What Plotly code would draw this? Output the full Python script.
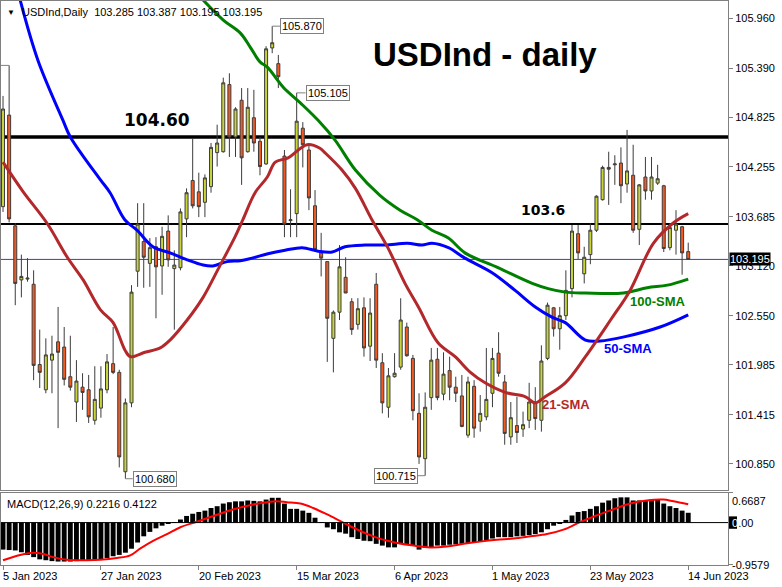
import plotly.graph_objects as go

# ---------------- data ----------------
opens = [103.80, 104.85, 103.58, 102.96, 102.97, 102.91, 101.99, 101.70, 102.04, 102.25,
         102.19, 101.85, 101.56, 101.73, 101.70, 101.35, 101.49, 101.70, 102.00, 101.90,
         100.76, 101.55, 103.06, 103.40, 103.15, 103.34, 103.12, 103.52, 103.09, 103.10,
         103.66, 104.10, 103.97, 103.85, 104.03, 104.42, 104.43, 105.20, 104.60, 105.02,
         104.43, 104.82, 104.55, 104.29, 105.62, 105.44, 104.38, 103.64, 103.72, 104.70,
         104.45, 103.81, 103.27, 103.17, 102.29, 102.59, 102.99, 102.71, 102.45, 102.64,
         102.20, 102.91, 102.01, 101.50, 101.85, 101.96, 102.42, 102.06, 101.43, 100.91,
         101.61, 102.05, 101.65, 101.92, 101.73, 101.63, 101.18, 101.74, 101.34, 101.39,
         101.66, 102.12, 101.79, 101.16, 101.29, 101.25, 101.35, 101.55, 101.35, 102.06,
         102.64, 102.40, 102.55, 102.86, 103.49, 103.03, 103.25, 103.53, 103.88, 104.25,
         104.28, 104.30, 104.06, 104.16, 103.54, 104.14, 103.98, 104.07, 104.04, 103.33,
         103.53, 103.57, 103.285]
highs = [105.07, 105.42, 103.61, 103.25, 103.21, 103.07, 102.39, 102.29, 102.32, 102.65,
         102.42, 102.32, 102.04, 101.89, 101.87, 101.97, 101.97, 102.11, 102.42, 101.93,
         101.60, 102.90, 103.84, 103.84, 103.44, 103.45, 103.57, 103.70, 103.30, 103.78,
         104.01, 104.58, 104.19, 104.17, 104.53, 104.74, 105.28, 105.33, 104.94, 105.16,
         105.16, 105.14, 104.60, 105.64, 105.87, 105.54, 104.45, 104.00, 105.105, 104.77,
         104.51, 103.99, 103.50, 103.17, 102.61, 103.36, 103.22, 102.75, 102.75, 102.76,
         102.75, 103.04, 102.12, 101.95, 102.12, 102.75, 102.47, 102.10, 101.66, 101.67,
         102.18, 102.18, 102.13, 102.08, 101.85, 101.87, 101.85, 101.81, 101.64, 102.18,
         102.18, 102.36, 101.87, 101.56, 101.62, 101.45, 101.78, 101.73, 102.21, 102.70,
         102.65, 102.65, 103.07, 103.59, 103.59, 103.34, 103.61, 103.93, 104.27, 104.43,
         104.39, 104.48, 104.68, 104.51, 104.06, 104.37, 104.37, 104.28, 104.05, 103.61,
         103.76, 103.58, 103.387]
lows = [103.74, 103.62, 102.67, 102.76, 102.94, 101.81, 101.72, 101.66, 101.66, 101.26,
        101.75, 101.69, 101.33, 101.47, 101.32, 101.30, 101.38, 101.66, 101.88, 100.81,
        100.68, 101.50, 102.88, 102.87, 102.88, 102.52, 102.79, 103.11, 102.39, 103.07,
        103.45, 103.78, 103.68, 103.68, 103.96, 104.26, 104.42, 104.37, 104.37, 104.05,
        104.42, 104.43, 104.16, 104.28, 105.56, 105.16, 103.45, 103.45, 103.45, 104.25,
        103.76, 103.30, 103.00, 102.02, 101.90, 102.50, 102.81, 102.33, 102.39, 102.08,
        102.03, 101.95, 101.43, 101.38, 101.84, 101.93, 102.08, 101.35, 100.85, 100.715,
        101.47, 101.58, 101.58, 101.58, 101.56, 101.27, 101.15, 101.15, 101.22, 101.35,
        101.50, 101.85, 101.07, 101.07, 101.09, 101.16, 101.26, 101.24, 101.22, 102.04,
        102.31, 102.16, 102.50, 102.76, 103.20, 102.92, 103.14, 103.51, 103.87, 103.82,
        104.05, 103.84, 103.96, 103.50, 103.36, 103.88, 103.88, 104.05, 103.28, 103.30,
        103.25, 103.02, 103.195]
closes = [104.92, 103.66, 102.92, 103.00, 102.98, 101.98, 101.90, 102.10, 102.11, 102.13,
          101.82, 101.73, 101.80, 101.67, 101.39, 101.59, 101.71, 102.02, 101.90, 100.93,
          101.55, 102.82, 103.60, 103.22, 103.33, 103.11, 103.46, 103.19, 103.13, 103.74,
          103.96, 103.81, 103.80, 104.13, 104.48, 104.53, 105.22, 104.60, 104.92, 104.36,
          104.94, 104.53, 104.26, 105.61, 105.68, 105.29, 103.60, 103.65, 104.78, 104.51,
          103.90, 103.31, 103.21, 102.52, 102.59, 103.11, 102.81, 102.39, 102.63, 102.18,
          102.58, 102.04, 101.55, 101.86, 101.89, 102.50, 102.09, 101.46, 100.93, 101.50,
          102.04, 101.61, 101.88, 101.73, 101.66, 101.28, 101.79, 101.26, 101.43, 101.59,
          102.06, 101.89, 101.20, 101.38, 101.21, 101.30, 101.56, 101.37, 102.03, 102.67,
          102.40, 102.55, 102.84, 103.52, 103.27, 103.22, 103.53, 103.92, 104.25, 104.23,
          104.29, 104.04, 104.21, 103.53, 104.05, 103.98, 104.14, 104.12, 103.32, 103.56,
          103.60, 103.27, 103.195]

tick_bars = [0, 16, 32, 48, 64, 80, 96, 112]
tick_labels = ["5 Jan 2023", "27 Jan 2023", "20 Feb 2023", "15 Mar 2023",
               "6 Apr 2023", "1 May 2023", "23 May 2023", "14 Jun 2023"]

price_ticks = [105.960, 105.390, 104.825, 104.255, 103.685, 103.120,
               102.550, 101.985, 101.415, 100.850]

sma21_x = [0, 3.3, 7.2, 10.5, 13.1, 15.9, 18, 19.9, 20.8, 23.2, 25.7, 27.3, 30.1, 32.7,
           35.5, 37.9, 39.2, 41.2, 43.2, 44.5, 46.6, 49.7, 51.8, 52.6, 55.4, 57.6, 60.3,
           62.9, 65.7, 67.9, 71.1, 73.9, 76.4, 78.8, 82.1, 85.4, 87, 88.6, 91.9, 95.2,
           99.3, 102.5, 106.3, 109.5, 112]
sma21_y = [104.31, 103.97, 103.61, 103.22, 102.96, 102.62, 102.47, 102.16, 102.08, 102.13,
           102.18, 102.27, 102.50, 102.76, 103.13, 103.45, 103.65, 103.96, 104.14, 104.31,
           104.36, 104.51, 104.47, 104.42, 104.22, 104.01, 103.65, 103.33, 102.92, 102.65,
           102.24, 102.08, 101.90, 101.78, 101.67, 101.62, 101.55, 101.62, 101.78, 102.08,
           102.50, 102.84, 103.38, 103.61, 103.72]

sma50_x = [2.8, 5.7, 9.8, 11, 15.9, 17.5, 19.9, 21.9, 24.5, 27.3, 30.1, 32.7, 34.3, 36.6,
           38.8, 40.7, 43.3, 46.1, 48.9, 51.5, 53.8, 55.9, 59.2, 62.5, 66.1, 68.5, 70.1,
           72.8, 75.5, 80, 83.7, 87, 89.8, 91.9, 95.2, 97.6, 101.7, 107.4, 112]
sma50_y = [106.17, 105.48, 104.79, 104.60, 104.11, 103.96, 103.65, 103.53, 103.34, 103.27,
           103.19, 103.13, 103.12, 103.17, 103.18, 103.21, 103.26, 103.30, 103.33, 103.29,
           103.28, 103.34, 103.36, 103.36, 103.38, 103.36, 103.38, 103.33, 103.21, 103.04,
           102.84, 102.65, 102.53, 102.47, 102.27, 102.26, 102.31, 102.42, 102.56]

sma100_x = [32.7, 36, 38.8, 40.4, 42, 43.2, 45.8, 48.6, 51.5, 54.3, 57.6, 61.6, 64.9, 67.7,
            70.1, 72.8, 75.5, 80.9, 86.5, 89.1, 91.9, 95.2, 101.4, 105.3, 108.6, 112]
sma100_y = [106.17, 105.94, 105.79, 105.63, 105.46, 105.40, 105.17, 104.99, 104.79, 104.56,
            104.22, 103.93, 103.76, 103.65, 103.53, 103.44, 103.27, 103.10, 102.92, 102.86,
            102.82, 102.81, 102.81, 102.87, 102.90, 102.97]

macd_hist = [-0.61, -0.62, -0.63, -0.67, -0.73, -0.78, -0.83, -0.85, -0.87, -0.88,
             -0.88, -0.88, -0.87, -0.85, -0.85, -0.85, -0.83, -0.80, -0.76, -0.73,
             -0.68, -0.59, -0.45, -0.31, -0.21, -0.13, -0.07, -0.02, 0.01, 0.07,
             0.15, 0.20, 0.24, 0.27, 0.33, 0.37, 0.43, 0.46, 0.48, 0.48,
             0.50, 0.49, 0.48, 0.52, 0.56, 0.56, 0.43, 0.31, 0.31, 0.27,
             0.22, 0.11, 0.01, -0.11, -0.15, -0.22, -0.25, -0.33, -0.37, -0.41,
             -0.42, -0.48, -0.52, -0.56, -0.56, -0.48, -0.50, -0.52, -0.61, -0.57,
             -0.56, -0.52, -0.52, -0.50, -0.49, -0.48, -0.46, -0.45, -0.43, -0.41,
             -0.36, -0.33, -0.33, -0.33, -0.31, -0.30, -0.28, -0.26, -0.22, -0.15,
             -0.07, -0.02, 0.06, 0.16, 0.24, 0.26, 0.31, 0.37, 0.45, 0.50,
             0.55, 0.57, 0.57, 0.50, 0.50, 0.50, 0.52, 0.52, 0.43, 0.37,
             0.33, 0.27, 0.2216]

signal_x = [0, 2.8, 5, 6.6, 8.2, 10.4, 13.7, 15.9, 18.6, 20.8, 22.4, 24.6, 26.8, 28.9,
            31.7, 34.4, 37.7, 40.9, 43.1, 44.7, 46.4, 48.6, 50.7, 52.9, 55.6, 57.8, 60.5,
            62.5, 64.4, 67.1, 69.8, 72.5, 75.3, 78, 80.7, 83.4, 86.2, 88.9, 91.6, 94.3,
            97, 99.8, 102.5, 105.2, 107.9, 109.6, 112]
signal_y = [-0.85, -0.73, -0.68, -0.71, -0.78, -0.84, -0.85, -0.84, -0.80, -0.74, -0.59,
            -0.41, -0.26, -0.11, 0.02, 0.15, 0.30, 0.41, 0.46, 0.48, 0.46, 0.43, 0.33,
            0.19, 0.0, -0.15, -0.31, -0.40, -0.46, -0.52, -0.56, -0.54, -0.48, -0.43,
            -0.39, -0.36, -0.31, -0.26, -0.16, 0.01, 0.16, 0.30, 0.43, 0.50, 0.52, 0.48,
            0.4122]

level_major = 104.60
level_minor = 103.6
macd_top, macd_bottom = 0.6687, -0.9579

# ---------------- figure ----------------
bars = list(range(len(opens)))
FONT = "Liberation Sans, Arial, sans-serif"
BOLD = "Liberation Sans, Arial, sans-serif"
GRAY = "#808080"
RED = "#B3282B"
BLUE = "#0000FF"
GREEN = "#008000"

fig = go.Figure()

fig.add_trace(go.Candlestick(
    x=bars, open=opens, high=highs, low=lows, close=closes,
    increasing=dict(fillcolor="#C8D43A", line=dict(color="#3C3C3C", width=1)),
    decreasing=dict(fillcolor="#F05A24", line=dict(color="#3C3C3C", width=1)),
    whiskerwidth=0, xaxis="x", yaxis="y", hoverinfo="skip"))

for xs, ys, col in [(sma100_x, sma100_y, GREEN), (sma50_x, sma50_y, BLUE), (sma21_x, sma21_y, RED)]:
    fig.add_trace(go.Scatter(x=xs, y=ys, mode="lines", xaxis="x", yaxis="y",
                             line=dict(color=col, width=3, shape="spline", smoothing=1.0),
                             hoverinfo="skip"))

fig.add_trace(go.Bar(x=bars, y=macd_hist, xaxis="x2", yaxis="y2", width=0.8,
                     marker=dict(color="black", line=dict(width=0)), hoverinfo="skip"))
fig.add_trace(go.Scatter(x=signal_x, y=signal_y, mode="lines", xaxis="x2", yaxis="y2",
                         line=dict(color="#FF0000", width=2, shape="spline", smoothing=1.0),
                         hoverinfo="skip"))

last = len(opens) - 1
shapes = [
    dict(type="line", xref="x domain", x0=0, x1=1, yref="y", y0=level_major, y1=level_major,
         line=dict(color="black", width=3.5), layer="below"),
    dict(type="line", xref="x domain", x0=0, x1=1, yref="y", y0=level_minor, y1=level_minor,
         line=dict(color="black", width=2), layer="below"),
    dict(type="line", xref="x domain", x0=0, x1=1, yref="y", y0=closes[last], y1=closes[last],
         line=dict(color="#3C3CC8", width=1), layer="below"),
    dict(type="line", xref="x2 domain", x0=0, x1=1, yref="y2", y0=0, y1=0,
         line=dict(color="black", width=1), layer="above"),
    # small black marker behind the MACD zero label
    dict(type="rect", xref="paper", yref="y2", x0=1.0014, x1=1.0124, y0=-0.14, y1=0.14,
         fillcolor="black", line=dict(width=0), layer="above"),
]

# extreme-price label connectors
i_hi = highs.index(max(highs))
i_hi2 = 48
i_lo = lows.index(min(lows))
i_lo2 = 69
for i, y, dx in [(i_hi, highs[i_hi], 1.35), (i_hi2, highs[i_hi2], 1.45),
                 (i_lo, lows[i_lo], 1.2), (i_lo2, lows[i_lo2], -1.2), (1, highs[1], -1.7)]:
    shapes.append(dict(type="line", xref="x", yref="y", x0=i, x1=i + dx, y0=y, y1=y,
                       line=dict(color=GRAY, width=1)))

ann = []
# header
ann.append(dict(xref="paper", yref="paper", x=0.006, y=1, yshift=-5, xanchor="left", yanchor="top",
                text="▼", showarrow=False, font=dict(family=FONT, size=8, color="black")))
ann.append(dict(xref="paper", yref="paper", x=0.026, y=1, yshift=-3, xanchor="left", yanchor="top",
                text=f"USDInd,Daily  {opens[last]:.3f} {highs[last]:.3f} {lows[last]:.3f} {closes[last]:.3f}",
                showarrow=False, font=dict(family=FONT, size=11, color="black")))
ann.append(dict(xref="paper", yref="paper", x=0.666, y=0.906, xanchor="center", yanchor="middle",
                text="<b>USDInd - daily</b>", showarrow=False,
                font=dict(family=BOLD, size=33, color="black")))
ann.append(dict(xref="x", yref="y", x=19.4, y=level_major, yshift=5, xanchor="left", yanchor="bottom",
                text=f"<b>{level_major:.2f}</b>", showarrow=False,
                font=dict(family="DejaVu Sans", size=17, color="black")))
ann.append(dict(xref="x", yref="y", x=84.3, y=level_minor, yshift=4, xanchor="left", yanchor="bottom",
                text=f"<b>{level_minor}</b>", showarrow=False,
                font=dict(family="DejaVu Sans", size=14, color="black")))
# SMA labels
for txt, xb, yp, col in [("21-SMA", 87.8, 101.537, RED), ("50-SMA", 97.9, 102.17, BLUE),
                         ("100-SMA", 102.2, 102.718, GREEN)]:
    ann.append(dict(xref="x", yref="y", x=xb, y=yp, xanchor="left", yanchor="middle",
                    text=f"<b>{txt}</b>", showarrow=False,
                    font=dict(family=BOLD, size=13, color=col)))
# extreme price boxes
for i, y, dx, anc in [(i_hi, highs[i_hi], 1.35, "left"), (i_hi2, highs[i_hi2], 1.45, "left"),
                      (i_lo, lows[i_lo], 1.2, "left"), (i_lo2, lows[i_lo2], -1.2, "right")]:
    ann.append(dict(xref="x", yref="y", x=i + dx, y=y, xanchor=anc, yanchor="middle",
                    text=f"{y:.3f}", showarrow=False, bgcolor="white", bordercolor=GRAY,
                    borderwidth=1, borderpad=1, font=dict(family=FONT, size=11, color="black")))
# last price box
ann.append(dict(xref="paper", yref="y", x=1, xshift=1, y=closes[last], xanchor="left", yanchor="middle",
                text=f"{closes[last]:.3f}", showarrow=False, bgcolor="black", borderpad=0,
                font=dict(family=FONT, size=11, color="white")))
# MACD panel texts
ann.append(dict(xref="paper", yref="y2", x=0.006, y=macd_top, yshift=-3, xanchor="left", yanchor="top",
                text=f"MACD(12,26,9) {macd_hist[last]:.4f} {signal_y[-1]:.4f}", showarrow=False,
                font=dict(family=FONT, size=11, color="black")))
for val, txt, anc in [(macd_top, f"{macd_top:.4f}", "top"),
                      (0, "<span style='color:white'>0</span>.00", "middle"),
                      (macd_bottom, f"{macd_bottom:.4f}", "middle")]:
    ann.append(dict(xref="paper", yref="y2", x=1, xshift=2, y=val, xanchor="left", yanchor=anc,
                    text=txt, showarrow=False, font=dict(family=FONT, size=11, color="black")))
# date labels
for b, t in zip(tick_bars, tick_labels):
    ann.append(dict(xref="x2", yref="paper", x=b, y=0, xshift=-2, yshift=-3, xanchor="left",
                    yanchor="top", text=t, showarrow=False,
                    font=dict(family=FONT, size=11, color="black")))

xr = [-0.33, 118.5]
fig.update_layout(
    width=782, height=587, margin=dict(l=1, r=54, t=1, b=22),
    paper_bgcolor="white", plot_bgcolor="white", showlegend=False, hovermode=False,
    bargap=0.2,
    xaxis=dict(domain=[0, 1], anchor="y", range=xr, showticklabels=False, showgrid=False,
               zeroline=False, showline=True, mirror=True, linecolor=GRAY, linewidth=1,
               rangeslider=dict(visible=False), ticks=""),
    yaxis=dict(domain=[0.133, 1], anchor="x", side="right", range=[100.551, 106.1585],
               tickvals=price_ticks, ticktext=[f"{v:.3f}" for v in price_ticks],
               ticks="outside", ticklen=4, tickcolor=GRAY, showgrid=False, zeroline=False,
               showline=True, mirror=True, linecolor=GRAY, linewidth=1,
               tickfont=dict(family=FONT, size=11, color="black")),
    xaxis2=dict(domain=[0, 1], anchor="y2", range=xr, matches="x", tickvals=tick_bars,
                showticklabels=False, ticks="outside", ticklen=4, tickcolor=GRAY,
                showgrid=False, zeroline=False, showline=True, mirror=True, linecolor=GRAY,
                linewidth=1),
    yaxis2=dict(domain=[0, 0.1277], anchor="x2", side="right", range=[macd_bottom, macd_top],
                tickvals=[macd_top, 0, macd_bottom], showticklabels=False, ticks="outside",
                ticklen=4, tickcolor=GRAY, showgrid=False, zeroline=False, showline=True,
                mirror=True, linecolor=GRAY, linewidth=1),
    shapes=shapes, annotations=ann,
)

fig.write_html("out.html", config={"displayModeBar": False},
               post_script="document.body.style.margin='0';document.body.style.overflow='hidden';")
